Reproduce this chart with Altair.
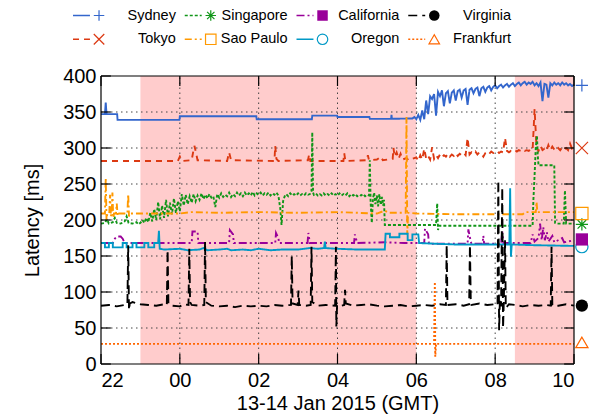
import altair as alt
import pandas as pd

# ---------------- data (hours after 22:00 GMT, latency in ms) ----------------
HOUR_TICKS = [0, 2, 4, 6, 8, 10, 12]
HOUR_LABELS = ["22", "00", "02", "04", "06", "08", "10"]
Y_TICKS = [0, 50, 100, 150, 200, 250, 300, 350, 400]
NIGHT_START = [1.0, 10.5]
NIGHT_END = [8.0, 12.0]

SERIES = ["Sydney", "Tokyo", "Singapore", "Sao Paulo", "California", "Oregon", "Virginia", "Frankfurt"]
COLORS = ["#3366cc", "#dc3912", "#109618", "#ff9900", "#990099", "#0099c6", "#000000", "#ff6600"]
DASHES = [[1, 0], [6, 5], [3, 2], [7, 3, 2, 3], [8, 3, 2, 3, 2, 3], [1, 0], [9, 5], [2, 2]]
PLUS = "M-1,0L1,0M0,-1L0,1"
CROSS = "M-1,-1L1,1M-1,1L1,-1"
STAR = "M-1,0L1,0M0,-1L0,1M-0.7,-0.7L0.7,0.7M-0.7,0.7L0.7,-0.7"
SHAPES = [PLUS, CROSS, STAR, "square", "square", "circle", "circle", "triangle-up"]
FILLED = [False, False, False, False, True, False, True, False]
END_VALUES = [387, 300, 194, 209, 173, 163, 81, 30]
LEGEND_COL = [0, 0, 1, 1, 2, 2, 3, 3]
LEGEND_ROW = [0, 1, 0, 1, 0, 1, 0, 1]


def run(start, step, values):
    return [(round(start + k * step, 3), v) for k, v in enumerate(values)]


SYDNEY = [(0, 347), (0.10, 347), (0.12, 363), (0.14, 347), (0.41, 347), (0.42, 339), (1.99, 339),
          (2.0, 344), (3.94, 344), (3.95, 340), (5.35, 340), (5.36, 345), (5.99, 345), (6.0, 343),
          (6.81, 343), (6.82, 340.5), (7.36, 340.5), (7.37, 346), (7.38, 340.5), (7.85, 341)]
SYDNEY_NOISE = [341, 343, 340, 346, 339, 352, 340, 366, 347, 372,
                368, 375, 345, 378, 372, 380, 358, 376, 379, 362,
                377, 380, 366, 379, 381, 370, 380, 382, 360, 381,
                383, 376, 382, 384, 372, 383, 385, 378, 384, 386,
                380, 385, 387, 383, 386, 388, 384, 387, 389, 385,
                388, 390, 386, 389, 391, 387, 390, 392, 388, 391,
                389, 392, 387, 390, 386, 391, 365, 389, 388, 370,
                390, 387, 391, 388, 390, 387, 391, 388, 390, 387,
                389, 386, 388]

TOKYO = [(0, 282), (1.95, 282), (2.0, 288), (2.05, 282), (2.3, 283), (2.35, 298), (2.37, 303), (2.4, 296),
         (2.45, 283), (3.2, 282), (3.25, 294), (3.3, 283), (4.4, 282), (4.42, 303), (4.45, 285), (4.5, 282),
         (5.25, 283), (5.28, 291), (5.31, 282), (6.15, 282), (6.17, 293), (6.2, 282), (6.75, 283),
         (6.77, 290), (6.8, 283), (7.0, 284), (7.1, 288), (7.15, 283), (7.4, 285), (7.42, 300), (7.45, 288),
         (7.5, 294), (7.55, 285), (7.6, 292), (7.65, 284), (7.75, 286), (7.8, 283), (7.9, 285)]
TOKYO_NOISE = [287, 282, 290, 284, 299, 285, 289, 284, 301, 285,
               290, 286, 291, 287, 290, 288, 292, 288, 291, 289,
               293, 289, 292, 290, 293, 290, 314, 291, 294, 292,
               295, 291, 294, 292, 288, 293, 295, 292, 295, 293,
               294, 296, 293, 295, 294, 314, 296, 294, 296, 295,
               297, 295, 297, 296, 298, 296, 297, 296, 298, 297,
               354, 300, 296, 303, 297, 299, 296, 304, 297, 302,
               298, 296, 300, 297, 301, 298, 300, 297, 306, 299,
               300]

SING_A = [(0, 195), (0.1, 196), (0.15, 201), (0.2, 195), (0.3, 197), (0.35, 203), (0.4, 196), (0.5, 195),
          (0.6, 198), (0.65, 205), (0.7, 196), (0.8, 195), (0.9, 197), (0.95, 194), (1.0, 196), (1.05, 200)]
SING_B = [196, 203, 197, 210, 198, 215, 200, 225, 201, 220,
          203, 228, 205, 224, 208, 230, 210, 226, 212, 236,
          220, 235, 222, 233, 224, 236, 226, 234, 228, 237,
          229, 235, 230, 236, 231, 233, 218, 236, 231, 237,
          232, 235, 233, 238, 232, 236, 233, 238, 234, 237,
          233, 238, 234, 237, 234, 239, 234, 237, 235, 238,
          234, 237, 235, 238, 234, 237, 235, 238, 234]
SING_C = [(4.55, 215), (4.58, 193), (4.62, 226), (4.66, 233)]
SING_D = [236, 233, 237, 234, 236, 234, 237, 234, 236, 234, 237, 235, 236]
SING_E = [(5.34, 240), (5.36, 322), (5.38, 238)]
SING_F = [235, 237, 234, 236, 234, 237, 234, 236, 234, 237,
          234, 236, 234, 237, 234, 236, 234, 237, 233, 236,
          234, 236, 233, 235, 234, 236, 233, 235, 234]
SING_G = [(6.82, 283), (6.84, 225), (6.87, 196), (6.90, 230), (6.93, 238), (6.96, 222), (7.00, 234),
          (7.03, 219), (7.06, 236), (7.10, 221), (7.13, 232), (7.16, 220), (7.18, 228), (7.20, 193),
          (8.50, 193), (8.53, 223), (8.55, 186), (8.58, 192), (10.95, 192), (10.97, 228), (11.0, 262),
          (11.03, 300), (11.06, 317), (11.08, 290), (11.1, 276), (11.5, 276), (11.52, 196), (11.55, 195),
          (11.74, 195), (11.77, 241), (11.8, 195), (12.0, 195)]

SAO_PAULO = [(0, 209), (0.10, 209), (0.12, 258), (0.14, 200), (0.16, 209), (0.21, 209), (0.23, 235),
             (0.25, 205), (0.27, 209), (0.29, 238), (0.31, 203), (0.33, 209), (0.38, 209), (0.40, 223),
             (0.42, 206), (0.44, 209), (0.67, 209), (0.69, 236), (0.71, 205), (0.73, 209), (2.0, 209),
             (2.3, 211), (3.0, 210), (4.0, 211), (5.0, 210), (6.0, 211), (7.0, 209), (7.2, 213),
             (7.3, 210), (7.73, 210), (7.75, 343), (7.77, 180), (7.79, 210), (8.0, 209), (9.0, 208),
             (10.0, 208), (10.7, 208), (10.76, 211), (11.03, 211), (11.05, 225), (11.07, 211), (12.0, 211)]

CALIFORNIA = [(0, 168), (0.3, 168), (0.35, 174), (0.4, 177), (0.5, 177), (0.55, 174), (0.6, 168),
              (2.3, 168), (2.32, 184), (2.45, 184), (2.47, 168), (3.25, 168), (3.27, 186), (3.35, 180),
              (3.37, 168), (4.42, 168), (4.44, 182), (4.5, 175), (4.52, 168), (5.24, 168), (5.26, 182),
              (5.3, 168), (6.42, 168), (6.44, 180), (6.5, 168), (7.2, 169), (7.7, 168), (8.2, 168),
              (8.22, 188), (8.3, 180), (8.32, 167), (9.3, 167), (9.32, 187), (9.38, 170), (9.4, 167),
              (9.68, 167), (9.7, 178), (9.72, 167), (10.15, 167), (10.18, 184), (10.21, 168), (10.9, 168),
              (10.95, 180), (11.0, 170), (11.1, 175), (11.14, 195), (11.18, 172), (11.22, 190),
              (11.26, 172), (11.31, 183), (11.35, 170), (11.45, 178), (11.5, 169), (11.7, 175),
              (11.75, 169), (12.0, 172)]

OREGON = [(0, 168), (0.1, 168), (0.1, 162), (0.2, 162), (0.2, 168), (0.3, 168), (0.3, 162), (0.55, 162),
          (0.55, 168), (0.65, 168), (0.65, 162), (0.8, 162), (0.8, 168), (0.9, 168), (0.9, 162),
          (1.1, 162), (1.1, 168), (1.2, 168), (1.2, 162), (1.35, 162), (1.35, 168), (1.45, 168),
          (1.47, 185), (1.49, 160), (1.6, 159), (2.0, 160), (2.2, 158), (2.5, 159), (2.6, 161),
          (2.7, 158), (3.0, 159), (3.2, 160), (3.3, 158), (3.6, 159), (3.8, 158), (4.0, 160), (4.3, 158),
          (4.6, 159), (5.0, 159), (5.3, 161), (5.5, 160), (5.66, 161), (5.68, 170), (5.7, 161),
          (6.0, 160), (6.5, 159), (7.2, 159), (7.22, 181), (7.33, 181), (7.33, 176), (7.57, 176),
          (7.57, 181), (7.78, 181), (7.78, 172), (7.9, 172), (7.9, 180), (8.05, 180), (8.07, 168),
          (8.5, 167), (9.0, 166), (10.36, 166), (10.38, 244), (10.40, 149), (10.42, 166), (11.0, 165),
          (12.0, 164)]

VIRGINIA = [(0, 81), (0.2, 82), (0.4, 80), (0.6, 82), (0.67, 83), (0.69, 165), (0.71, 75), (0.73, 84),
            (0.8, 86), (1.0, 83), (1.2, 82), (1.4, 81), (1.6, 83), (1.67, 82), (1.69, 158), (1.71, 84),
            (1.8, 81), (2.0, 80), (2.1, 83), (2.22, 82), (2.24, 160), (2.26, 86), (2.3, 82), (2.5, 81),
            (2.62, 82), (2.64, 170), (2.66, 86), (2.8, 81), (3.0, 80), (3.2, 81), (3.4, 79), (3.6, 81),
            (3.8, 80), (4.0, 81), (4.2, 80), (4.4, 82), (4.6, 81), (4.82, 82), (4.84, 150), (4.86, 84),
            (4.99, 82), (5.01, 102), (5.03, 82), (5.2, 81), (5.32, 82), (5.34, 163), (5.36, 86),
            (5.5, 81), (5.7, 82), (5.94, 81), (5.96, 163), (5.97, 52), (5.99, 82), (6.1, 81),
            (6.17, 82), (6.19, 103), (6.21, 84), (6.4, 81), (6.6, 82), (6.8, 83), (7.0, 81), (7.2, 80),
            (7.4, 81), (7.6, 82), (7.8, 80), (8.0, 81), (8.2, 82), (8.4, 81), (8.6, 83), (8.75, 82),
            (8.77, 165), (8.79, 82), (9.0, 83), (9.2, 81), (9.34, 83), (9.36, 165), (9.38, 90),
            (9.4, 82), (9.6, 84), (9.8, 82), (10.0, 83), (10.06, 82), (10.08, 255), (10.1, 47),
            (10.12, 90), (10.15, 80), (10.18, 245), (10.2, 50), (10.22, 88), (10.25, 172), (10.27, 78),
            (10.35, 83), (10.5, 82), (10.7, 80), (10.9, 82), (11.1, 81), (11.3, 82), (11.41, 81),
            (11.43, 163), (11.45, 82), (11.6, 81), (11.8, 83), (12.0, 81)]

FRANKFURT = [(0, 28), (8.45, 28), (8.47, 114), (8.48, 10), (8.5, 28), (12.0, 28)]

POINTS = {
    "Sydney": SYDNEY + run(7.90, 0.05, SYDNEY_NOISE),
    "Tokyo": TOKYO + run(8.00, 0.05, TOKYO_NOISE),
    "Singapore": SING_A + run(1.10, 0.05, SING_B) + SING_C + run(4.70, 0.05, SING_D) + SING_E
                 + run(5.40, 0.05, SING_F) + SING_G,
    "Sao Paulo": SAO_PAULO,
    "California": CALIFORNIA,
    "Oregon": OREGON,
    "Virginia": VIRGINIA,
    "Frankfurt": FRANKFURT,
}

# ---------------- tables ----------------
rows = []
for s in SERIES:
    for i, (t, v) in enumerate(POINTS[s]):
        rows.append({"series": s, "i": i, "t": t, "v": v})
lines_df = pd.DataFrame(rows)

night_df = pd.DataFrame({"x": NIGHT_START, "x2": NIGHT_END, "y": [0, 0], "y2": [400, 400]})

grid = [{"x": h, "x2": h, "y": 0, "y2": 400} for h in HOUR_TICKS[1:-1]]
grid += [{"x": 0, "x2": 12, "y": v, "y2": v} for v in Y_TICKS[1:-1]]
grid_df = pd.DataFrame(grid)

frame_df = pd.DataFrame([
    {"x": 0, "x2": 12, "y": 0, "y2": 0}, {"x": 0, "x2": 12, "y": 400, "y2": 400},
    {"x": 0, "x2": 0, "y": 0, "y2": 400}, {"x": 12, "x2": 12, "y": 0, "y2": 400}])

TICK_W = 0.25   # hours
TICK_H = 13.9   # ms
ticks = []
for v in Y_TICKS:
    ticks.append({"x": 0, "x2": TICK_W, "y": v, "y2": v})
    ticks.append({"x": 12 - TICK_W, "x2": 12, "y": v, "y2": v})
for h in HOUR_TICKS:
    ticks.append({"x": h, "x2": h, "y": 0, "y2": TICK_H})
    ticks.append({"x": h, "x2": h, "y": 400 - TICK_H, "y2": 400})
ticks_df = pd.DataFrame(ticks)

end_df = pd.DataFrame({"series": SERIES, "t": [12.2] * 8, "v": END_VALUES, "filled": FILLED})

LEG_X0, LEG_PITCH, LEG_LINE, LEG_MARK, LEG_TEXT = -0.71, 2.835, 0.43, 0.66, 2.61
LEG_Y = [484, 451]
leg_df = pd.DataFrame({
    "series": SERIES,
    "x": [LEG_X0 + c * LEG_PITCH for c in LEGEND_COL],
    "x2": [LEG_X0 + c * LEG_PITCH + LEG_LINE for c in LEGEND_COL],
    "xm": [LEG_X0 + c * LEG_PITCH + LEG_MARK for c in LEGEND_COL],
    "xt": [LEG_X0 + c * LEG_PITCH + LEG_TEXT for c in LEGEND_COL],
    "y": [LEG_Y[r] for r in LEGEND_ROW],
    "filled": FILLED,
})

# ---------------- encodings ----------------
FONT = "Liberation Sans"
XS = alt.Scale(domain=[0, 12], nice=False, zero=False)
YS = alt.Scale(domain=[0, 400], nice=False, zero=False)
XAX = alt.Axis(values=HOUR_TICKS, labelExpr="%s[datum.value / 2]" % str(HOUR_LABELS),
               title="13-14 Jan 2015 (GMT)", grid=False, ticks=False, domain=False,
               labelFontSize=20, titleFontSize=20, labelPadding=6, titlePadding=3,
               labelColor="black", titleColor="black", titleFontWeight="normal", labelFont=FONT, titleFont=FONT)
YAX = alt.Axis(values=Y_TICKS, title="Latency [ms]", grid=False, ticks=False, domain=False,
               labelFontSize=20, titleFontSize=20, labelPadding=5, titlePadding=20,
               labelColor="black", titleColor="black", titleFontWeight="normal", labelFont=FONT, titleFont=FONT)


def X(f):
    return alt.X(f, type="quantitative", scale=XS, axis=XAX)


def Y(f):
    return alt.Y(f, type="quantitative", scale=YS, axis=YAX)


COL = alt.Color("series:N", scale=alt.Scale(domain=SERIES, range=COLORS), legend=None)
DASH = alt.StrokeDash("series:N", scale=alt.Scale(domain=SERIES, range=DASHES), legend=None)
SHP = alt.Shape("series:N", scale=alt.Scale(domain=SERIES, range=SHAPES), legend=None)

night = alt.Chart(night_df).mark_rect(color="#ffcccc").encode(
    x=X("x"), x2="x2", y=Y("y"), y2="y2")
gridl = alt.Chart(grid_df).mark_rule(color="#444444", strokeDash=[1.5, 3.5], strokeWidth=1).encode(
    x=X("x"), x2="x2", y=Y("y"), y2="y2")
lines = alt.Chart(lines_df).mark_line(strokeWidth=1.9, interpolate="linear").encode(
    x=X("t"), y=Y("v"), color=COL, strokeDash=DASH, detail="series:N", order="i:Q")
frame = alt.Chart(frame_df).mark_rule(color="black", strokeWidth=1.2).encode(
    x=X("x"), x2="x2", y=Y("y"), y2="y2")
tickl = alt.Chart(ticks_df).mark_rule(color="black", strokeWidth=1.2).encode(
    x=X("x"), x2="x2", y=Y("y"), y2="y2")
end_open = alt.Chart(end_df).transform_filter("!datum.filled").mark_point(
    filled=False, size=150, strokeWidth=1.2, opacity=1).encode(x=X("t"), y=Y("v"), color=COL, shape=SHP)
end_fill = alt.Chart(end_df).transform_filter("datum.filled").mark_point(
    filled=True, size=150, opacity=1).encode(x=X("t"), y=Y("v"), color=COL, shape=SHP)
leg_line = alt.Chart(leg_df).mark_rule(strokeWidth=1.6).encode(
    x=X("x"), x2="x2", y=Y("y"), color=COL, strokeDash=DASH)
leg_open = alt.Chart(leg_df).transform_filter("!datum.filled").mark_point(
    filled=False, size=110, strokeWidth=1.2, opacity=1).encode(x=X("xm"), y=Y("y"), color=COL, shape=SHP)
leg_fill = alt.Chart(leg_df).transform_filter("datum.filled").mark_point(
    filled=True, size=110, opacity=1).encode(x=X("xm"), y=Y("y"), color=COL, shape=SHP)
leg_text = alt.Chart(leg_df).mark_text(align="right", baseline="middle", fontSize=14.5, font=FONT,
                                       color="black").encode(x=X("xt"), y=Y("y"), text="series:N")

chart = alt.layer(night, gridl, lines, frame, tickl, end_open, end_fill,
                  leg_line, leg_open, leg_fill, leg_text).properties(
    width=473, height=288,
    autosize=alt.AutoSizeParams(type="none"),
    padding={"left": 93, "top": 68, "right": 31, "bottom": 53},
).configure(font=FONT).configure_view(stroke=None)

chart.save("out.html", embed_options={"renderer": "svg", "actions": False})
